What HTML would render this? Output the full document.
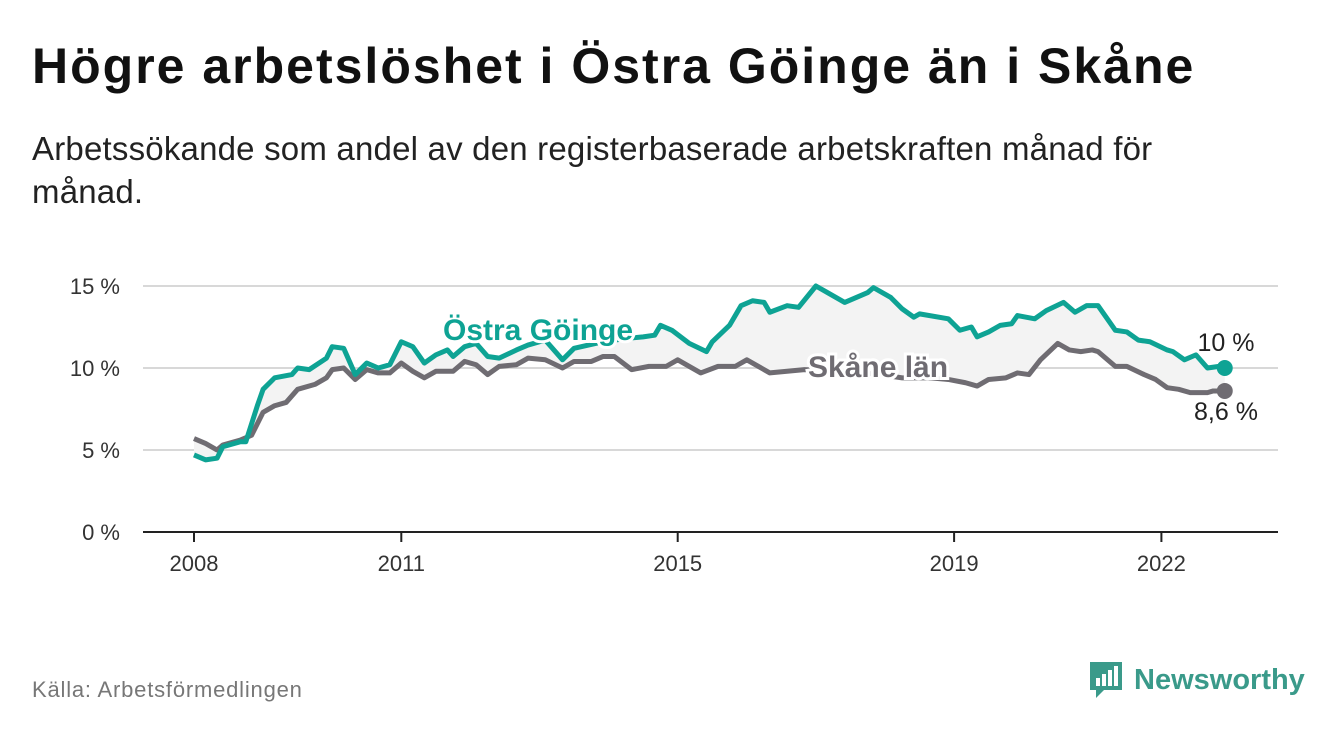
<!DOCTYPE html>
<html><head><meta charset="utf-8"><style>
body{margin:0;width:1340px;height:734px;background:#fff;font-family:"Liberation Sans",sans-serif;overflow:hidden;position:relative}
h1{position:absolute;left:32px;top:38px;margin:0;font-size:50px;line-height:57px;font-weight:bold;color:#111;letter-spacing:2px;white-space:nowrap}
.sub{position:absolute;left:32px;top:127px;font-size:33px;line-height:43px;color:#222;width:1200px;letter-spacing:0.2px}
.src{position:absolute;left:32px;top:677px;font-size:22px;color:#777;letter-spacing:0.8px}
.logo{position:absolute;left:1088px;top:660px;display:flex;align-items:center;gap:10px;color:#3a9a8a;font-size:29px;font-weight:bold}
</style></head><body>
<h1>Högre arbetslöshet i Östra Göinge än i Skåne</h1>
<div class="sub">Arbetssökande som andel av den registerbaserade arbetskraften månad för månad.</div>
<svg id="chart" width="1340" height="734" style="position:absolute;left:0;top:0"></svg>
<div class="src">Källa: Arbetsförmedlingen</div>
<div class="logo"><svg width="36" height="40" viewBox="0 0 36 40"><path d="M2 2h32v28H16l-8 8v-8H2z" fill="#3a9a8a"/><rect x="8" y="18" width="4" height="8" fill="#fff"/><rect x="14" y="14" width="4" height="12" fill="#fff"/><rect x="20" y="10" width="4" height="16" fill="#fff"/><rect x="26" y="6" width="4" height="20" fill="#fff"/></svg><span>Newsworthy</span></div>
<script>
const goingeMonths=[0,2,4,5,8,9,11,12,14,17,18,20,23,24,26,28,30,32,34,36,38,40,42,44,45,47,49,51,53,56,58,61,64,66,71,75,78,80,81,83,86,89,90,93,95,97,99,100,103,105,108,110,113,117,118,121,123,125,126,131,133,135,136,138,140,142,143,146,148,151,153,155,157,159,160,162,164,166,169,170,172,174,176,178,179];
const goingeValues=[4.7,4.4,4.5,5.2,5.5,5.5,7.7,8.7,9.4,9.6,10.0,9.9,10.6,11.3,11.2,9.6,10.3,10.0,10.2,11.6,11.3,10.3,10.8,11.1,10.7,11.3,11.5,10.7,10.6,11.1,11.4,11.7,10.5,11.2,11.6,11.8,11.9,12.0,12.6,12.3,11.5,11.0,11.6,12.6,13.8,14.1,14.0,13.4,13.8,13.7,15.0,14.6,14.0,14.6,14.9,14.3,13.6,13.1,13.3,13.0,12.3,12.5,11.9,12.2,12.6,12.7,13.2,13.0,13.5,14.0,13.4,13.8,13.8,12.8,12.3,12.2,11.7,11.6,11.1,11.0,10.5,10.8,10.0,10.1,10.0];
const skaneMonths=[0,2,4,5,8,10,12,14,16,18,21,23,24,26,28,30,32,34,36,38,40,42,45,47,49,51,53,56,58,61,64,66,69,71,73,76,79,82,84,88,91,94,96,100,103,106,114,119,123,128,131,134,136,138,141,143,145,147,150,152,154,156,157,160,162,165,167,169,171,173,176,177,179];
const skaneValues=[5.7,5.4,5.0,5.3,5.6,5.9,7.3,7.7,7.9,8.7,9.0,9.4,9.9,10.0,9.3,9.9,9.7,9.7,10.3,9.8,9.4,9.8,9.8,10.4,10.2,9.6,10.1,10.2,10.6,10.5,10.0,10.4,10.4,10.7,10.7,9.9,10.1,10.1,10.5,9.7,10.1,10.1,10.5,9.7,9.8,9.9,9.8,9.6,9.4,9.4,9.3,9.1,8.9,9.3,9.4,9.7,9.6,10.5,11.5,11.1,11.0,11.1,11.0,10.1,10.1,9.6,9.3,8.8,8.7,8.5,8.5,8.6,8.6];
const yTicks=[0,5,10,15];
const yTickLabels=["0 %","5 %","10 %","15 %"];
const xTicks=[2008,2011,2015,2019,2022];
const NS="http://www.w3.org/2000/svg";
const svg=document.getElementById('chart');
const X0=194,PX_YEAR=69.1,Y0=532,PX_PCT=16.4;
const xm=m=>X0+m/12*PX_YEAR;
const xy=y=>X0+(y-2008)*PX_YEAR;
const yv=v=>Y0-v*PX_PCT;
function el(t,a,p){const e=document.createElementNS(NS,t);for(const k in a)e.setAttribute(k,a[k]);(p||svg).appendChild(e);return e;}
yTicks.forEach((t,i)=>{
 const l=el('line',{x1:143,x2:1278,y1:yv(t),y2:yv(t),stroke:t===0?'#222':'#d8d8d8','stroke-width':2});
 
 
 const tx=el('text',{x:120,y:yv(t)+8,'text-anchor':'end','font-size':22,fill:'#333'});
 tx.textContent=yTickLabels[i];
 
 
});
xTicks.forEach(t=>{
 const l=el('line',{x1:xy(t),x2:xy(t),y1:Y0,y2:Y0+10,stroke:'#222','stroke-width':2});
 
 
 const tx=el('text',{x:xy(t),y:Y0+39,'text-anchor':'middle','font-size':22,fill:'#333'});
 tx.textContent=t;
 
 
});
const gp=goingeMonths.map((m,i)=>[xm(m),yv(goingeValues[i])]);
const sp=skaneMonths.map((m,i)=>[xm(m),yv(skaneValues[i])]);
const area=el('polygon',{points:gp.concat(sp.slice().reverse()).map(p=>p.join(',')).join(' '),fill:'#f3f3f3'});


const sl=el('polyline',{points:sp.map(p=>p.join(',')).join(' '),fill:'none',stroke:'#6f6c72','stroke-width':5,'stroke-linejoin':'round'});


const gl=el('polyline',{points:gp.map(p=>p.join(',')).join(' '),fill:'none',stroke:'#0ea394','stroke-width':5,'stroke-linejoin':'round'});


const lg=el('text',{x:443,y:340,'font-size':30,'font-weight':'bold',fill:'#0ea394',stroke:'#fff','stroke-width':6,'paint-order':'stroke'});
lg.textContent='Östra Göinge';


const ls=el('text',{x:808,y:377,'font-size':30,'font-weight':'bold',fill:'#6f6c72',stroke:'#fff','stroke-width':6,'paint-order':'stroke'});
ls.textContent='Skåne län';


const gLast=goingeValues.length-1,sLast=skaneValues.length-1;
const gd=el('circle',{cx:xm(goingeMonths[gLast]),cy:yv(goingeValues[gLast]),r:8,fill:'#0ea394'});


const sd=el('circle',{cx:xm(skaneMonths[sLast]),cy:yv(skaneValues[sLast]),r:8,fill:'#6f6c72'});


const gv=el('text',{x:1226,y:351,'text-anchor':'middle','font-size':25,fill:'#222'});
gv.textContent=String(goingeValues[gLast]).replace('.',',')+' %';


const sv=el('text',{x:1226,y:420,'text-anchor':'middle','font-size':25,fill:'#222'});
sv.textContent=String(skaneValues[sLast]).replace('.',',')+' %';


</script>
</body></html>
